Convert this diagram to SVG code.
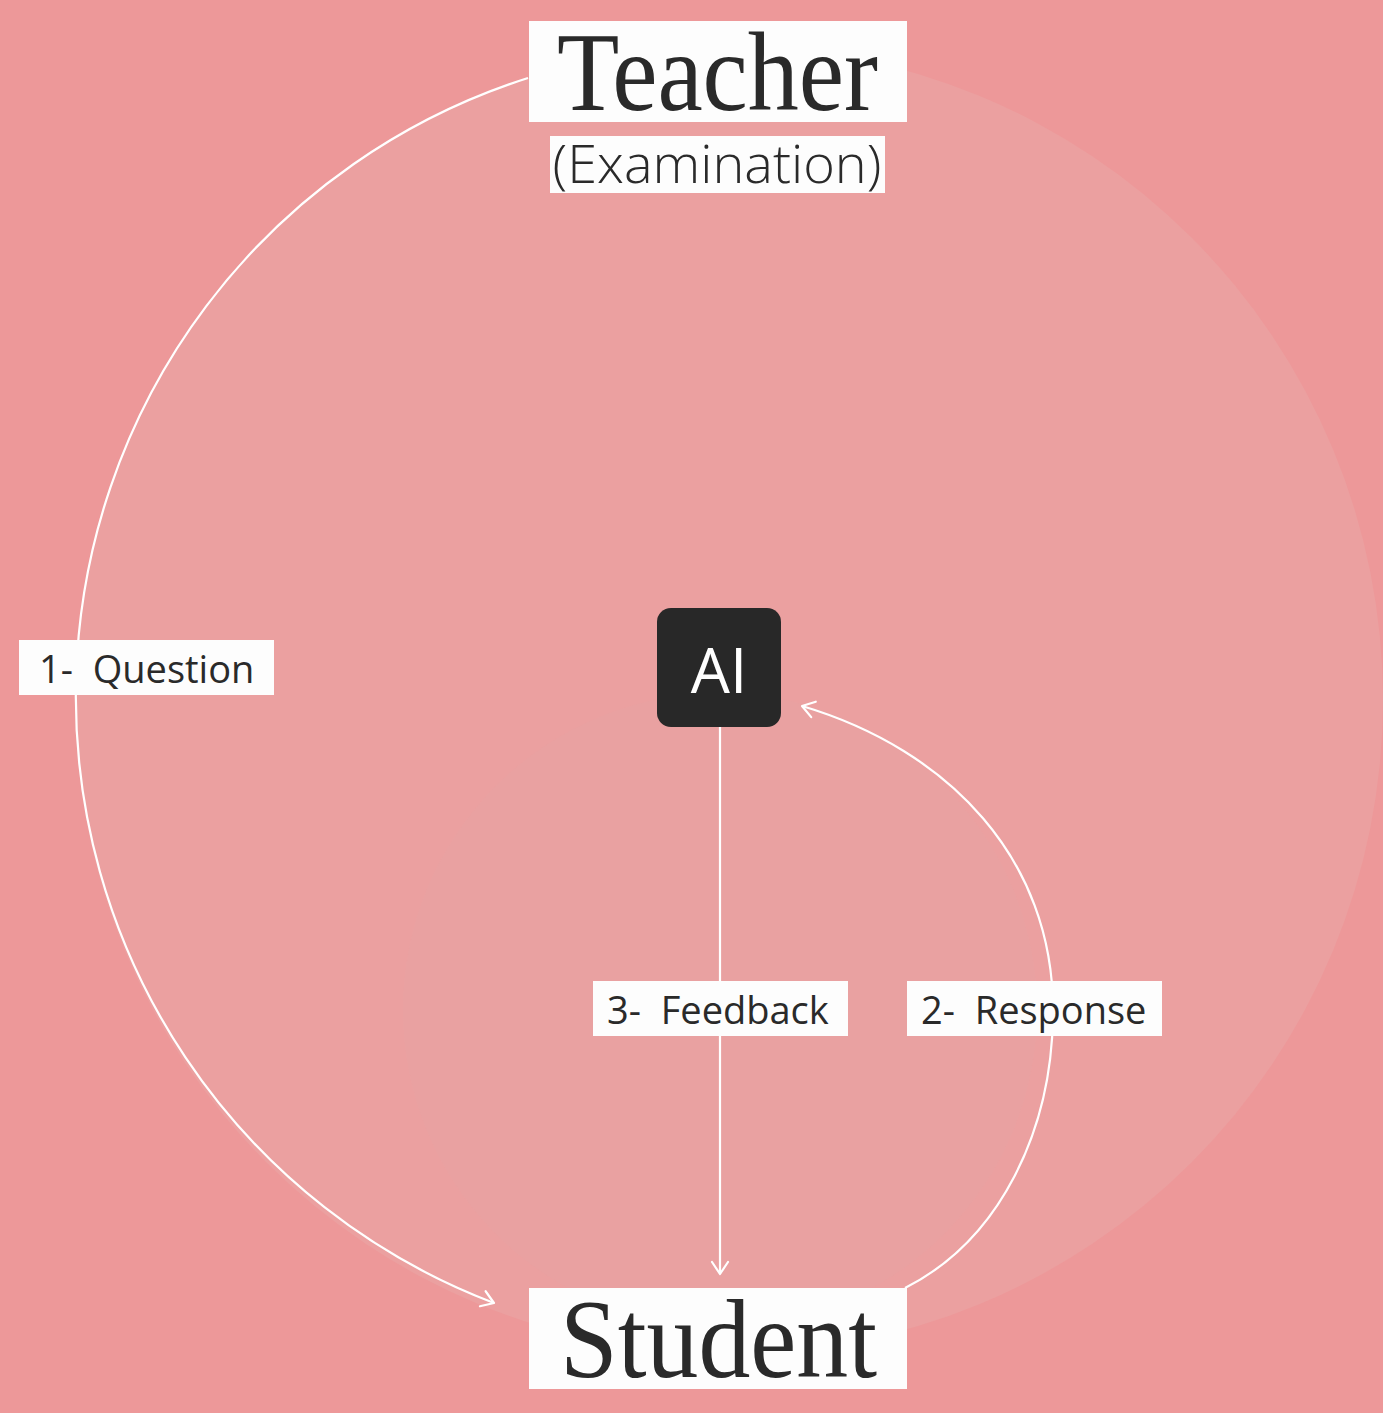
<svg xmlns="http://www.w3.org/2000/svg" width="1383" height="1413" viewBox="0 0 1383 1413">
<defs>
<style>
.box{fill:#fdfdfd}
.title{font-family:"Liberation Serif","DejaVu Serif",serif;font-size:113px;fill:#2a2a2a}
.sub{font-family:"Open Sans","Noto Sans",sans-serif;font-weight:300;font-size:54px;fill:#2a2a2a}
.lbl{font-family:"Open Sans","Noto Sans",sans-serif;font-size:38px;fill:#2a2a2a;white-space:pre}
.edge{fill:none;stroke:#ffffff;stroke-width:2.2}
</style>
<marker id="arr" viewBox="0 0 20 20" refX="18" refY="10" markerWidth="20" markerHeight="20" markerUnits="userSpaceOnUse" orient="auto">
<path d="M6,2 L18,10 L6,18" fill="none" stroke="#ffffff" stroke-width="2.2" stroke-linecap="round" stroke-linejoin="round"/>
</marker>
</defs>
<rect width="1383" height="1413" fill="#ED9899"/>
<circle cx="729" cy="700" r="654" fill="#EBA0A0"/>
<circle cx="720" cy="1010" r="317" fill="#E9A1A1"/>
<g id="connectors">
<path class="edge" d="M528,78 A649,649 0 0 0 494,1303" marker-end="url(#arr)"/>
<path class="edge" d="M905,1288 C1000,1240 1053,1130 1053,1010 C1053,860 950,750 802,706" marker-end="url(#arr)"/>
<path class="edge" d="M720,727 L720,1274" marker-end="url(#arr)"/>
</g>
<g id="teacher">
<rect class="box" x="529" y="21" width="378" height="101"/>
<text class="title" x="557" y="110" textLength="321" lengthAdjust="spacingAndGlyphs">Teacher</text>
<rect class="box" x="550" y="136" width="335" height="57"/>
<text class="sub" x="717" y="183" text-anchor="middle">(Examination)</text>
</g>
<g id="student">
<rect class="box" x="529" y="1288" width="378" height="101"/>
<text class="title" x="560" y="1377" textLength="317" lengthAdjust="spacingAndGlyphs">Student</text>
</g>
<g id="ai">
<rect x="657" y="608" width="124" height="119" rx="14" fill="#282828"/>
<text x="719" y="693" text-anchor="middle" font-family="'Open Sans','Noto Sans',sans-serif" font-size="62" fill="#ffffff">AI</text>
</g>
<g id="label-question">
<rect class="box" x="19" y="640" width="255" height="55"/>
<text class="lbl" x="39" y="683">1-  Question</text>
</g>
<g id="label-feedback">
<rect class="box" x="593" y="981" width="255" height="55"/>
<text class="lbl" x="607" y="1024">3-  Feedback</text>
</g>
<g id="label-response">
<rect class="box" x="907" y="981" width="255" height="55"/>
<text class="lbl" x="921" y="1024">2-  Response</text>
</g>
</svg>
